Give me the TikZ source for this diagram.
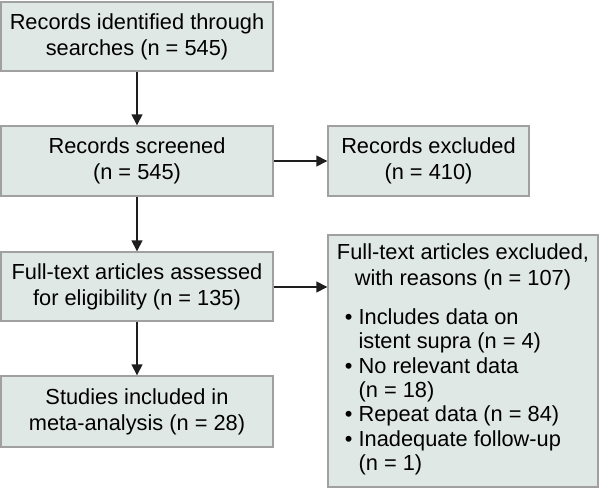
\documentclass[tikz,border=0pt]{standalone}
\usepackage{fontspec}
\setmainfont{Liberation Sans}
\usetikzlibrary{arrows.meta}
\definecolor{boxfill}{RGB}{224,232,230}
\definecolor{boxline}{RGB}{160,160,160}
\definecolor{arr}{RGB}{30,30,30}
\begin{document}
\begin{tikzpicture}[x=1pt,y=-1pt,
  box/.style={draw=boxline, fill=boxfill, line width=1.4pt, align=center,
    inner sep=0pt, font=\fontsize{21.8}{26}\selectfont},
  conn/.style={draw=arr, line width=1.5pt, -{Triangle[length=11pt,width=11pt]}}]
\useasboundingbox (0,0) rectangle (600,489);
\node[box, minimum width=272, minimum height=69] (ident) at (137,36.5)
  {Records identified through\\searches (n = 545)};
\node[box, minimum width=272, minimum height=70] (screen) at (137,161)
  {Records screened\\(n = 545)};
\node[box, minimum width=201, minimum height=70] (excl) at (428.5,161)
  {Records excluded\\(n = 410)};
\node[box, minimum width=272, minimum height=69] (assess) at (137,286.5)
  {Full-text articles assessed\\for eligibility (n = 135)};
\node[box, minimum width=272, minimum height=71] (incl) at (137,411.5)
  {Studies included in\\meta-analysis (n = 28)};
\node[box, minimum width=270, minimum height=252] (ftexcl) at (463,361)
  {Full-text articles excluded,\\with reasons (n = 107)\\[16pt]
   \renewcommand{\arraystretch}{0.94}%
   \begin{tabular}{@{}l@{\hspace{6pt}}l@{\hspace{20pt}}}
   • & Includes data on\\
     & istent supra (n = 4)\\
   • & No relevant data\\
     & (n = 18)\\
   • & Repeat data (n = 84)\\
   • & Inadequate follow-up\\
     & (n = 1)
   \end{tabular}};
\draw[conn] (ident) -- (screen);
\draw[conn] (screen) -- (assess);
\draw[conn] (assess) -- (incl);
\draw[conn] (screen) -- (excl);
\draw[conn] ([yshift=-0.5pt]assess.east) -- ([yshift=-0.5pt]assess.east -| ftexcl.west);
\end{tikzpicture}
\end{document}
